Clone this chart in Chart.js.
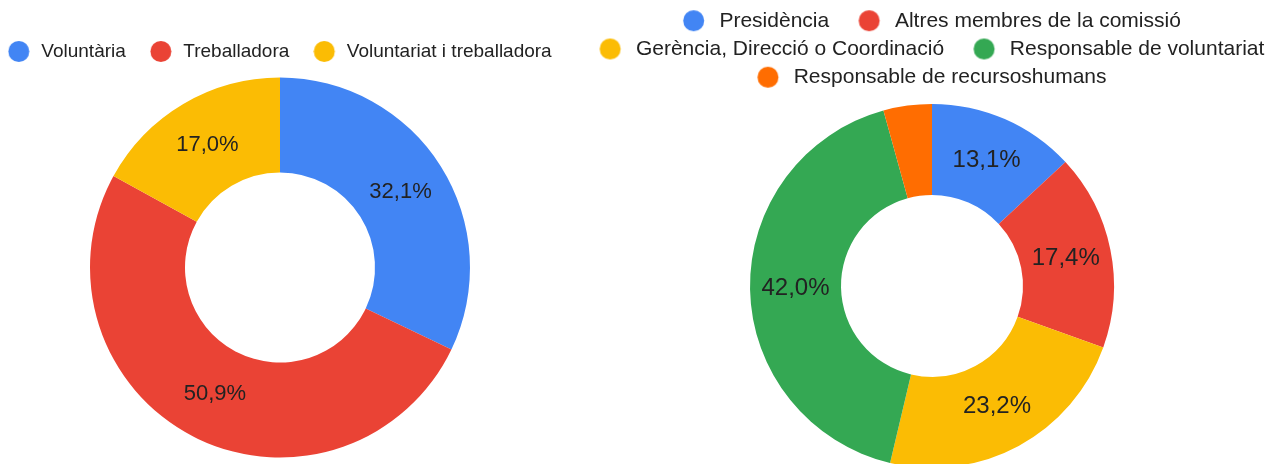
<!DOCTYPE html>
<html>
<head>
<meta charset="utf-8">
<script src="https://cdn.jsdelivr.net/npm/chart.js@4/dist/chart.umd.min.js"></script>
<style>
  html, body { margin: 0; padding: 0; background: #fff; overflow: hidden; }
  #wrap { position: relative; width: 1280px; height: 464px; overflow: hidden; }
  canvas { position: absolute; }
</style>
</head>
<body>
<div id="wrap">
  <canvas id="vinculacio" width="620" height="446" style="left:-30px; top:18px"></canvas>
  <canvas id="carrec" width="760" height="471" style="left:552px; top:3px"></canvas>
</div>
<script>
const etiquetes_vinculacio = ['Voluntària', 'Treballadora', 'Voluntariat i treballadora']
const valors_vinculacio = [32.1, 50.9, 17.0]
const colors_vinculacio = ['#4285F4', '#EA4335', '#FBBC04']

const etiquetes_carrec = [
  'Presidència',
  'Altres membres de la comissió',
  'Gerència, Direcció o Coordinació',
  'Responsable de voluntariat',
  'Responsable de recursoshumans'
]
const valors_carrec = [13.1, 17.4, 23.2, 42.0, 4.3]
const colors_carrec = ['#4285F4', '#EA4335', '#FBBC04', '#34A853', '#FF6D01']

const FONT = "Arial, 'Liberation Sans', sans-serif"

// punt de la llegenda: un canvas petit amb el cercle, per poder separar-lo del text
const ferPunt = (color, w, cx, r) => {
  const c = document.createElement('canvas')
  c.width = w
  c.height = Math.ceil(r * 2 + 2)
  const g = c.getContext('2d')
  g.fillStyle = color
  g.beginPath()
  g.arc(cx, c.height / 2, r, 0, Math.PI * 2)
  g.fill()
  return c
}

// etiquetes de percentatge dins de cada porció
const etiquetesPorcio = {
  id: 'etiquetesPorcio',
  afterDatasetsDraw(chart, args, opts) {
    const ctx = chart.ctx
    const vals = chart.data.datasets[0].data
    const total = vals.reduce((a, b) => a + b, 0)
    ctx.save()
    ctx.font = opts.size + 'px ' + FONT
    ctx.fillStyle = '#222'
    ctx.textAlign = 'center'
    ctx.textBaseline = 'middle'
    chart.getDatasetMeta(0).data.forEach((arc, i) => {
      const pct = vals[i] / total * 100
      if (pct < 5) return
      const p = arc.getCenterPoint()
      ctx.fillText(pct.toFixed(1).replace('.', ',') + '%', p.x, p.y)
    })
    ctx.restore()
  }
}

// compensa l'espai buit que queda a l'esquerra del primer punt
const moureLlegenda = {
  id: 'moureLlegenda',
  afterLayout(chart, args, opts) {
    if (!opts.dx) return
    chart.legend.left += opts.dx
    chart.legend.right += opts.dx
  }
}

const crearDonut = (id, etiquetes, valors, colors, cfg) => {
  const punts = colors.map(c => ferPunt(c, cfg.ampladaPunt, cfg.cx, cfg.r))
  const generar = Chart.overrides.doughnut.plugins.legend.labels.generateLabels
  return new Chart(document.getElementById(id), {
    type: 'doughnut',
    data: {
      labels: etiquetes,
      datasets: [{
        data: valors,
        backgroundColor: colors,
        borderWidth: 0
      }]
    },
    options: {
      responsive: false,
      animation: false,
      radius: cfg.radi,
      cutout: '50%',
      plugins: {
        tooltip: { enabled: false },
        legend: {
          position: 'top',
          labels: {
            font: { size: cfg.midaLlegenda, family: FONT },
            color: '#222',
            padding: cfg.padding,
            usePointStyle: true,
            pointStyleWidth: cfg.ampladaPunt,
            generateLabels: (chart) => generar(chart).map((it, i) => ({ ...it, pointStyle: punts[i] }))
          }
        },
        etiquetesPorcio: { size: cfg.midaEtiqueta },
        moureLlegenda: { dx: -(cfg.cx - cfg.r) / 2 }
      }
    },
    plugins: [etiquetesPorcio, moureLlegenda]
  })
}

window.addEventListener('load', () => {
  crearDonut('vinculacio', etiquetes_vinculacio, valors_vinculacio, colors_vinculacio, {
    radi: 190, midaLlegenda: 19, midaEtiqueta: 22, padding: 24, ampladaPunt: 24, cx: 11, r: 10.5
  })
  crearDonut('carrec', etiquetes_carrec, valors_carrec, colors_carrec, {
    radi: 182, midaLlegenda: 21, midaEtiqueta: 24, padding: 7.25, ampladaPunt: 48, cx: 32.75, r: 10.5
  })
})
</script>
</body>
</html>
